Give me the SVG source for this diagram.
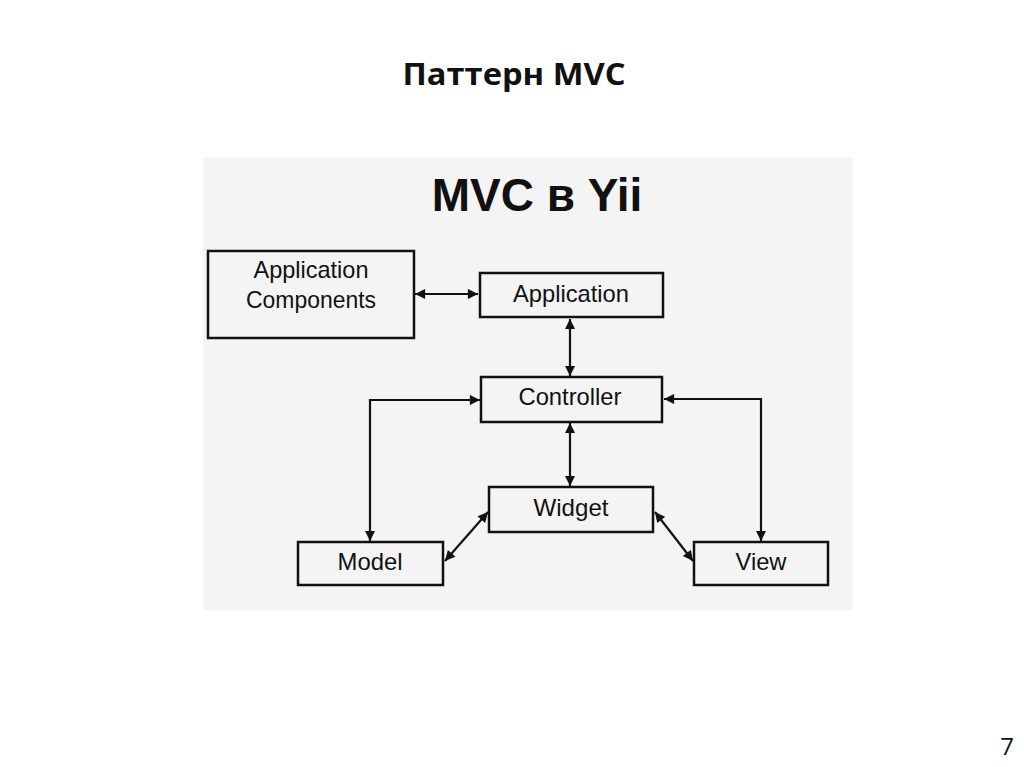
<svg xmlns="http://www.w3.org/2000/svg" width="1024" height="767" viewBox="0 0 1024 767">
<style>
.box{fill:none;stroke:#111;stroke-width:2.5}
.lbl{font-family:"Liberation Sans",Arial,sans-serif;font-size:24px;fill:#111;text-anchor:middle}
.con{fill:none;stroke:#111;stroke-width:2.2}
</style>
<defs>
<marker id="ah" viewBox="0 0 10 10" refX="10" refY="5" markerWidth="5.2" markerHeight="4.6" orient="auto-start-reverse" markerUnits="strokeWidth">
<path d="M0,0 L10,5 L0,10 z" fill="#111"/>
</marker>
</defs>
<rect x="0" y="0" width="1024" height="767" fill="#ffffff"/>
<text x="514" y="85" font-family="'Open Sans','Liberation Sans',sans-serif" font-weight="bold" font-size="31" text-anchor="middle" fill="#111" textLength="223" lengthAdjust="spacingAndGlyphs">Паттерн MVC</text>
<rect x="203" y="157" width="650" height="453" fill="#f4f4f4"/>
<text x="537" y="211" font-family="'Liberation Sans',Arial,sans-serif" font-weight="bold" font-size="46" text-anchor="middle" fill="#111">MVC в Yii</text>
<g id="connectors">
<line class="con" x1="415" y1="294" x2="478" y2="294" marker-start="url(#ah)" marker-end="url(#ah)"/>
<line class="con" x1="570" y1="319" x2="570" y2="376" marker-start="url(#ah)" marker-end="url(#ah)"/>
<line class="con" x1="570" y1="423" x2="570" y2="486" marker-start="url(#ah)" marker-end="url(#ah)"/>
<polyline class="con" points="370,541 370,400 480,400" marker-start="url(#ah)" marker-end="url(#ah)"/>
<polyline class="con" points="761,541 761,399 664,399" marker-start="url(#ah)" marker-end="url(#ah)"/>
<line class="con" x1="445" y1="561" x2="488" y2="512" marker-start="url(#ah)" marker-end="url(#ah)"/>
<line class="con" x1="655" y1="512" x2="693" y2="561" marker-start="url(#ah)" marker-end="url(#ah)"/>
</g>
<g id="app-components">
<rect class="box" x="208" y="251" width="206" height="87"/>
<text class="lbl" x="311" y="278" textLength="115" lengthAdjust="spacingAndGlyphs">Application</text>
<text class="lbl" x="311" y="308" textLength="130" lengthAdjust="spacingAndGlyphs">Components</text>
</g>
<g id="application">
<rect class="box" x="480" y="273" width="183" height="44"/>
<text class="lbl" x="571" y="302" textLength="116" lengthAdjust="spacingAndGlyphs">Application</text>
</g>
<g id="controller">
<rect class="box" x="481" y="377" width="181" height="45"/>
<text class="lbl" x="570" y="405" textLength="103" lengthAdjust="spacingAndGlyphs">Controller</text>
</g>
<g id="widget">
<rect class="box" x="489" y="487" width="164" height="45"/>
<text class="lbl" x="571" y="516" textLength="75" lengthAdjust="spacingAndGlyphs">Widget</text>
</g>
<g id="model">
<rect class="box" x="298" y="542" width="145" height="43"/>
<text class="lbl" x="370" y="570" textLength="65" lengthAdjust="spacingAndGlyphs">Model</text>
</g>
<g id="view">
<rect class="box" x="694" y="542" width="134" height="43"/>
<text class="lbl" x="761" y="570" textLength="51" lengthAdjust="spacingAndGlyphs">View</text>
</g>
<text x="1007" y="755" font-family="'Open Sans','Liberation Sans',sans-serif" font-size="24" text-anchor="middle" fill="#111">7</text>
</svg>
